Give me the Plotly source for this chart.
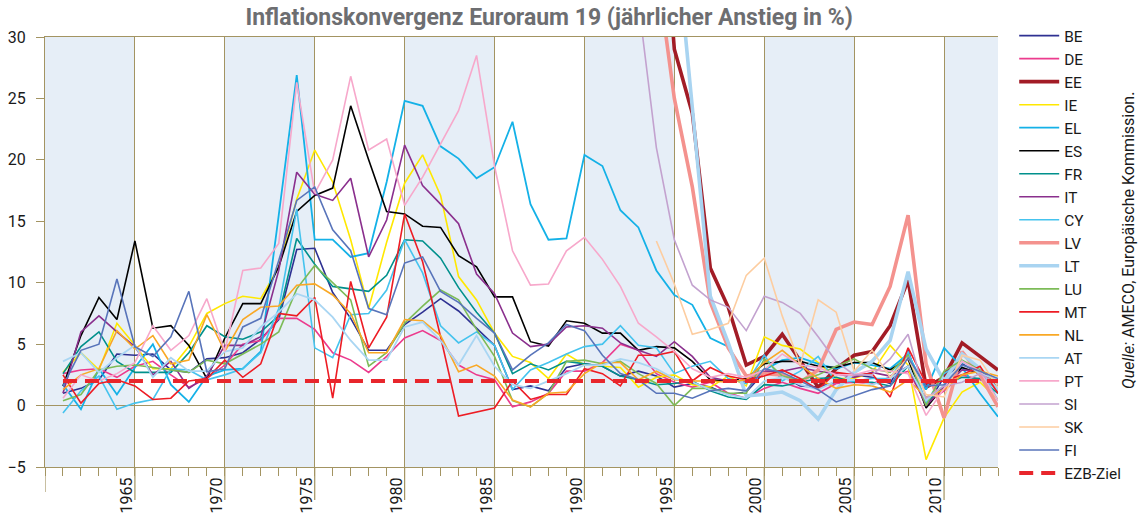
import plotly.graph_objects as go

years = list(range(1961, 2014))

BE = [1.0, 1.4, 2.1, 4.2, 4.1, 4.2, 2.9, 2.7, 3.8, 3.9,
      4.3, 5.4, 7.0, 12.7, 12.8, 9.2, 7.1, 4.5, 4.5, 6.6,
      7.6, 8.7, 7.7, 6.3, 4.9, 1.3, 1.6, 1.2, 3.1, 3.4,
      3.2, 2.4, 2.8, 2.4, 1.5, 1.8, 1.5, 0.9, 1.1, 2.7,
      2.4, 1.6, 1.5, 1.9, 2.5, 2.3, 1.8, 4.5, 0.0, 2.3,
      3.4, 2.6, 1.2]
DE = [2.6, 2.9, 3.0, 2.3, 3.2, 3.6, 2.5, 1.5, 2.2, 3.3,
      5.0, 5.3, 7.1, 7.1, 6.2, 4.3, 3.7, 2.7, 4.0, 5.5,
      6.1, 5.3, 3.3, 2.5, 2.1, -0.1, 0.3, 1.0, 2.8, 2.8,
      3.5, 5.0, 4.5, 2.6, 1.9, 1.5, 1.9, 1.0, 0.6, 1.4,
      1.9, 1.4, 1.0, 1.8, 1.9, 1.8, 2.3, 2.8, 0.2, 1.2,
      2.5, 2.1, 1.6]
EE = [None] * 32 + [89.8, 47.7, 29.0, 23.8, 11.2, 8.0, 3.3, 4.0,
      5.8, 3.6, 1.5, 3.0, 4.1, 4.4, 6.5, 10.2, 1.5, 2.3,
      5.1, 4.0, 2.9]
IE = [2.7, 4.3, 2.9, 6.7, 4.9, 3.0, 3.0, 4.8, 7.5, 8.3,
      8.9, 8.7, 11.3, 16.8, 20.8, 18.2, 13.5, 7.9, 13.3, 18.1,
      20.4, 17.1, 10.5, 8.6, 5.9, 4.0, 3.5, 2.2, 4.2, 3.3,
      3.2, 3.1, 1.5, 2.3, 2.5, 1.7, 1.5, 2.4, 1.6, 5.6,
      4.9, 4.6, 3.5, 2.2, 2.2, 2.7, 4.9, 3.3, -4.4, -1.0,
      1.1, 1.9, 0.5]
EL = [1.7, -0.3, 3.0, 0.9, 3.1, 5.0, 1.7, 0.3, 2.4, 2.9,
      3.0, 4.4, 15.5, 26.9, 13.5, 13.5, 12.1, 12.4, 18.2, 24.8,
      24.4, 21.1, 20.1, 18.5, 19.4, 23.1, 16.4, 13.5, 13.6, 20.4,
      19.5, 15.9, 14.5, 11.0, 9.0, 8.2, 5.5, 4.8, 2.4, 2.9,
      3.7, 3.9, 3.4, 3.0, 3.5, 3.3, 3.0, 4.2, 1.3, 4.7,
      3.1, 1.0, -0.9]
ES = [1.6, 5.7, 8.8, 7.0, 13.4, 6.3, 6.5, 4.9, 2.2, 5.5,
      8.3, 8.3, 11.3, 15.8, 17.1, 17.7, 24.4, 20.0, 15.8, 15.6,
      14.6, 14.5, 12.2, 11.3, 8.85, 8.85, 5.2, 4.85, 6.9, 6.7,
      5.9, 5.9, 4.5, 4.8, 4.7, 3.6, 2.1, 2.0, 2.2, 3.4,
      3.6, 3.6, 3.2, 3.1, 3.5, 3.5, 2.9, 3.8, -0.2, 1.6,
      3.1, 2.6, 1.6]
FR = [2.6, 4.8, 6.0, 3.6, 2.7, 2.7, 2.7, 4.3, 6.5, 5.6,
      5.4, 6.0, 7.3, 13.6, 11.5, 9.7, 9.5, 9.3, 10.6, 13.5,
      13.4, 12.0, 9.6, 7.6, 5.9, 2.6, 3.4, 2.9, 3.6, 3.4,
      3.2, 2.4, 2.1, 1.7, 1.8, 2.0, 1.2, 0.7, 0.5, 1.7,
      1.6, 1.9, 2.2, 2.3, 1.9, 1.9, 1.6, 3.2, 0.1, 1.7,
      2.3, 2.2, 1.0]
IT = [1.0, 6.0, 7.3, 6.0, 4.8, 2.5, 3.6, 1.4, 2.4, 4.9,
      4.9, 5.6, 11.0, 19.0, 17.2, 16.7, 18.5, 12.1, 15.1, 21.2,
      17.9, 16.4, 14.8, 10.7, 9.1, 5.9, 4.8, 5.0, 6.4, 6.5,
      6.3, 5.1, 4.5, 4.0, 5.2, 4.0, 2.3, 2.0, 2.0, 2.8,
      2.8, 3.1, 2.8, 2.6, 2.3, 2.7, 2.4, 3.2, 0.0, 1.5,
      2.9, 2.8, 1.3]
CY = [-0.6, 1.2, 2.4, -0.3, 0.2, 0.5, 3.0, 2.9, 2.1, 2.5,
      3.0, 4.3, 7.9, 16.0, 4.7, 3.9, 7.4, 7.5, 9.4, 13.5,
      10.8, 6.5, 5.1, 6.0, 4.9, 1.3, 2.9, 3.5, 4.2, 4.8,
      5.0, 6.5, 4.9, 4.7, 2.6, 3.2, 3.6, 2.2, 1.8, 4.1,
      2.0, 2.8, 4.0, 1.9, 2.0, 2.2, 2.2, 4.4, 0.2, 2.6,
      3.5, 3.1, 0.4]
LV = [None] * 32 + [109.0, 35.9, 25.0, 17.8, 8.4, 4.7, 2.4, 2.6,
      2.5, 1.9, 2.9, 6.2, 6.8, 6.6, 9.7, 15.5, 3.4, -1.0,
      4.4, 2.5, -0.1]
LT = [None] * 32 + [410.0, 72.1, 39.6, 24.6, 8.9, 5.1, 0.8, 0.9,
      1.1, 0.4, -1.1, 1.3, 2.7, 3.6, 5.3, 10.9, 4.6, 2.0,
      4.2, 3.0, 1.2]
LU = [0.4, 0.9, 2.9, 3.2, 3.3, 3.1, 2.9, 2.7, 3.7, 3.4,
      4.2, 5.0, 6.0, 9.5, 11.4, 10.0, 8.6, 3.2, 4.3, 6.7,
      8.1, 9.4, 8.6, 6.2, 4.0, 0.4, -0.1, 1.0, 3.6, 3.7,
      3.4, 3.6, 2.6, 1.8, 0.0, 1.4, 1.4, 1.0, 1.0, 3.8,
      2.4, 2.1, 2.5, 3.2, 3.8, 3.0, 2.7, 4.1, 0.0, 2.8,
      3.7, 2.9, 1.7]
MT = [2.5, 0.2, 1.8, 2.1, 1.6, 0.5, 0.6, 2.0, 2.2, 3.7,
      2.3, 3.4, 7.5, 7.3, 8.8, 0.6, 10.1, 4.7, 7.2, 15.6,
      11.7, 5.6, -0.85, -0.5, -0.2, 2.0, 0.5, 0.9, 0.9, 3.0,
      2.6, 1.6, 4.1, 4.1, 4.4, 2.0, 3.1, 2.4, 2.1, 2.4,
      2.9, 2.2, 1.3, 2.7, 2.5, 2.6, 0.7, 4.7, 1.8, 2.0,
      2.5, 3.2, 1.0]
NL = [1.3, 2.5, 3.0, 6.1, 4.6, 5.7, 3.4, 3.7, 7.4, 4.4,
      7.0, 8.0, 8.1, 9.8, 9.9, 9.0, 7.5, 4.3, 4.3, 7.0,
      6.9, 5.7, 2.75, 3.3, 2.4, 0.45, -0.1, 1.0, 1.1, 2.6,
      3.5, 3.5, 2.1, 2.8, 2.1, 2.0, 2.0, 1.9, 2.1, 3.5,
      4.5, 3.3, 2.2, 1.4, 1.7, 1.6, 1.1, 2.1, 0.7, 1.3,
      2.5, 2.8, 2.4]
AT = [3.6, 4.3, 2.7, 3.9, 4.9, 2.3, 3.9, 2.8, 2.8, 4.4,
      4.7, 6.4, 7.6, 9.1, 8.6, 7.2, 5.3, 3.7, 3.7, 6.4,
      6.8, 5.3, 3.3, 5.7, 3.2, 1.7, 1.4, 2.0, 2.6, 3.3,
      3.3, 3.8, 3.5, 3.0, 2.2, 1.9, 1.3, 0.9, 0.6, 2.0,
      2.3, 1.7, 1.3, 2.0, 2.1, 1.7, 2.2, 3.2, 0.4, 1.7,
      3.6, 2.6, 2.1]
PT = [0.6, 2.5, 2.0, 2.6, 3.5, 6.5, 4.5, 5.7, 8.7, 4.4,
      11.0, 11.2, 13.2, 26.3, 17.3, 20.0, 26.8, 20.8, 21.7, 16.3,
      18.6, 21.3, 24.0, 28.5, 19.5, 12.6, 9.8, 9.9, 12.6, 13.7,
      11.9, 9.7, 6.7, 5.6, 4.4, 3.0, 2.3, 2.6, 2.3, 2.9,
      4.2, 3.3, 3.1, 2.5, 2.5, 2.9, 2.8, 2.6, -0.8, 1.4,
      3.6, 2.8, 0.4]
SI = [None] * 31 + [207.0, 32.9, 21.0, 13.5, 9.8, 8.6, 8.0, 6.1, 8.9,
      8.4, 7.5, 5.6, 3.6, 2.5, 2.5, 3.8, 5.8, 0.6, 1.6,
      1.9, 2.6, 1.7]
SK = [None] * 33 + [13.4, 9.9, 5.8, 6.2, 6.7, 10.6, 12.0,
      7.3, 3.3, 8.6, 7.6, 2.8, 4.5, 2.3, 3.9, 0.9, 0.7,
      4.1, 3.7, 1.5]
FI = [1.6, 4.5, 5.0, 10.3, 4.8, 4.0, 5.6, 9.3, 2.75, 3.0,
      6.4, 7.1, 11.8, 16.7, 17.8, 14.3, 12.6, 7.9, 7.4, 11.6,
      12.1, 9.3, 8.4, 7.1, 5.9, 2.9, 4.1, 5.1, 6.6, 6.1,
      4.1, 2.6, 2.1, 1.0, 1.0, 0.6, 1.2, 1.4, 1.2, 3.0,
      2.7, 2.0, 1.3, 0.3, 0.8, 1.3, 1.6, 3.9, 1.6, 1.7,
      3.3, 2.8, 2.2]
EZB_ZIEL = 2.0

series = [
    ("BE", BE, "#2E3192", 1.6),
    ("DE", DE, "#EC3B8D", 1.6),
    ("EE", EE, "#A21C26", 3.6),
    ("IE", IE, "#FFE800", 1.6),
    ("EL", EL, "#14B1E7", 1.8),
    ("ES", ES, "#000000", 1.6),
    ("FR", FR, "#00908C", 1.6),
    ("IT", IT, "#8A2F8D", 1.6),
    ("CY", CY, "#45C3EE", 1.6),
    ("LV", LV, "#F4928E", 3.6),
    ("LT", LT, "#A9D4F1", 3.6),
    ("LU", LU, "#7CBB57", 1.6),
    ("MT", MT, "#ED1C24", 1.6),
    ("NL", NL, "#F9A825", 1.6),
    ("AT", AT, "#A9D6F3", 1.8),
    ("PT", PT, "#F7A8CB", 1.6),
    ("SI", SI, "#C3A2CF", 1.6),
    ("SK", SK, "#FDCDA0", 1.6),
    ("FI", FI, "#5874BA", 1.6),
]

FONT = "Roboto"
GRID = "#A39462"
BAND = "#E6EEF7"

fig = go.Figure()
for name, vals, color, w in series:
    fig.add_trace(go.Scatter(x=years, y=vals, mode="lines", name=name,
                             legendgroup=name,
                             line=dict(color=color, width=w)))
fig.add_trace(go.Scatter(x=years, y=[EZB_ZIEL] * len(years), mode="lines",
                         name="EZB-Ziel", legendgroup="EZB",
                         line=dict(color="#E8262C", width=4, dash="14px,8px")))

x0, x1 = 1960, 2013
shapes = []
for s in range(1960, 2013, 10):
    shapes.append(dict(type="rect", xref="x", yref="paper", x0=s, x1=min(s + 5, x1),
                       y0=0, y1=1, fillcolor=BAND, line=dict(width=0), layer="below"))
for t in range(1960, 2011, 5):
    shapes.append(dict(type="line", xref="x", yref="paper", x0=t, x1=t,
                       y0=0, y1=-33 / 430.6 if t > 1960 else -25 / 430.6,
                       line=dict(color=GRID, width=1.2)))

fig.update_layout(
    width=1143, height=516,
    margin=dict(l=45, r=145, t=37, b=49, autoexpand=False),
    plot_bgcolor="white", paper_bgcolor="white",
    font=dict(family=FONT, size=16, color="#1a1a1a"),
    title=dict(text="<b>Inflationskonvergenz Euroraum 19 (jährlicher Anstieg in %)</b>",
               x=0.529, xref="paper", xanchor="center",
               y=1 - 17 / 516, yref="container", yanchor="middle",
               font=dict(family=FONT, size=23, color="#6D6E71")),
    showlegend=True,
    legend=dict(x=1.017, xanchor="left", y=1.0416, yanchor="top",
                traceorder="grouped", tracegroupgap=0, maxheight=1000,
                itemwidth=40,
                font=dict(family=FONT, size=15.4, color="#1a1a1a"),
                bgcolor="rgba(0,0,0,0)"),
    shapes=shapes,
    annotations=[dict(text="<i>Quelle:</i> AMECO, Europäische Kommission.",
                      textangle=-90, xref="paper", yref="paper",
                      x=(1128 - 45) / 953, y=(467.3 - 241) / 430.6,
                      xanchor="center", yanchor="middle", showarrow=False,
                      font=dict(family=FONT, size=16, color="#1a1a1a"))],
)
fig.update_xaxes(range=[x0, x1], tickvals=list(range(1965, 2011, 5)),
                 tickangle=-90, ticks="outside", ticklen=8, tickcolor=GRID,
                 ticklabelshift=-8, ticklabelstandoff=-5,
                 minor=dict(dtick=1, tick0=1960, ticks="outside", ticklen=8, tickcolor=GRID, showgrid=False),
                 showgrid=True, gridcolor=GRID, gridwidth=1.2,
                 showline=True, linecolor=GRID, linewidth=1.2, mirror=True,
                 zeroline=False, automargin=False,
                 tickfont=dict(family=FONT, size=16, color="#1a1a1a"))
fig.update_yaxes(range=[-5, 30], dtick=5, tick0=0, showgrid=False,
                 zeroline=True, zerolinecolor=GRID, zerolinewidth=1.2,
                 showline=True, linecolor=GRID, linewidth=1.2,
                 ticks="outside", ticklen=8, tickcolor=GRID,
                 ticklabelstandoff=7,
                 automargin=False,
                 tickfont=dict(family=FONT, size=16, color="#1a1a1a"))

fig.write_html("out.html", config={"displayModeBar": False},
               post_script="document.body.style.margin='0';document.body.style.overflow='hidden';")
